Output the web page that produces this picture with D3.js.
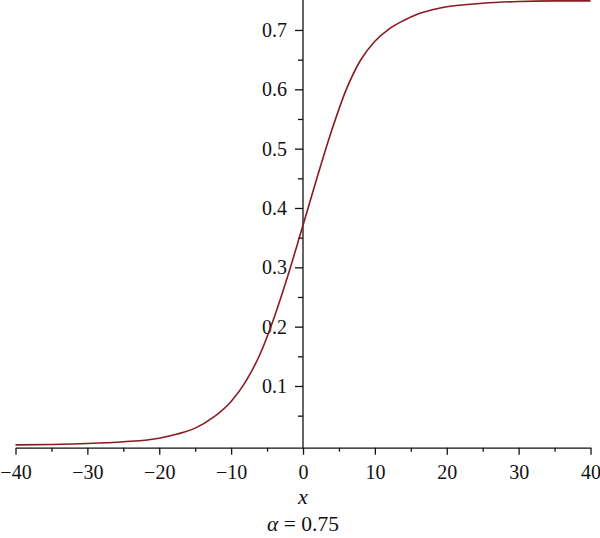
<!DOCTYPE html>
<html>
<head>
<meta charset="utf-8">
<script src="https://cdn.jsdelivr.net/npm/d3@7"></script>
<style>
  body { margin: 0; background: #fff; }
  svg { display: block; }
  text { font-family: "Liberation Serif", "DejaVu Serif", serif; fill: #111; }
</style>
</head>
<body>
<svg width="600" height="538"></svg>
<script>
// точки кривой
const xValues = [-40, -35, -30, -25, -20, -17.5, -15, -12.5, -10, -8, -6, -4, -2, 0, 2, 4, 6, 8, 10, 12, 14, 16, 18, 20, 25, 30, 35, 40];
const yValues = [0.0008, 0.0015, 0.003, 0.006, 0.012, 0.019, 0.029, 0.047, 0.074, 0.107, 0.153, 0.216, 0.290, 0.371, 0.453, 0.531, 0.599, 0.649, 0.681, 0.702, 0.716, 0.727, 0.734, 0.739, 0.745, 0.748, 0.749, 0.749];

// подписи осей
const xTicks = [-40, -30, -20, -10, 0, 10, 20, 30, 40];
const xMinorTicks = [-35, -25, -15, -5, 5, 15, 25, 35];
const yTicks = [0.1, 0.2, 0.3, 0.4, 0.5, 0.6, 0.7];
const yMinorTicks = [0.05, 0.15, 0.25, 0.35, 0.45, 0.55, 0.65];
const xLabel = "x";
const alphaValue = "0.75";

const svg = d3.select("svg");

const x = d3.scaleLinear().domain([-40, 40]).range([15.5, 590.5]);
const y = d3.scaleLinear().domain([-0.004, 0.75]).range([447.7, 0.3]);

const minus = (d) => d < 0 ? "\u2212" + Math.abs(d) : String(d);

// ось x (на нижней границе)
const gx = svg.append("g").attr("transform", `translate(0,${y(-0.004)})`);
gx.call(d3.axisBottom(x).tickValues(xTicks).tickSize(7).tickSizeOuter(0)
    .tickPadding(10.5).tickFormat(minus));
svg.append("g").attr("transform", `translate(0,${y(-0.004)})`)
    .call(d3.axisBottom(x).tickValues(xMinorTicks).tickSize(4).tickSizeOuter(0).tickFormat(""))
    .select(".domain").remove();

// ось y через ноль
const gy = svg.append("g").attr("transform", `translate(${x(0)},0)`);
gy.call(d3.axisLeft(y).tickValues(yTicks).tickSize(8).tickSizeOuter(0)
    .tickPadding(8).tickFormat(d3.format(".1f")));
svg.append("g").attr("transform", `translate(${x(0)},0)`)
    .call(d3.axisLeft(y).tickValues(yMinorTicks).tickSize(5).tickSizeOuter(0).tickFormat(""))
    .select(".domain").remove();

svg.selectAll(".domain").attr("stroke", "#111").attr("stroke-width", 1.3);
svg.selectAll(".tick line").attr("stroke", "#111").attr("stroke-width", 1.3);
svg.selectAll(".tick text").attr("font-size", 20).attr("font-family", "Liberation Serif, serif").attr("fill", "#000");

// верхний кусок оси y до края картинки
gy.select(".domain").attr("d", `M0,${y(-0.004)}V0`);

// кривая
const data = xValues.map((v, i) => ({x: v, y: yValues[i]}));
const line = d3.line()
    .x((d) => x(d.x))
    .y((d) => y(d.y))
    .curve(d3.curveMonotoneX);
svg.append("path")
    .attr("d", line(data))
    .attr("fill", "none")
    .attr("stroke", "#8b1a1f")
    .attr("stroke-width", 1.6);

// подписи под осью
svg.append("text")
    .attr("x", x(0)).attr("y", 504)
    .attr("text-anchor", "middle")
    .attr("font-size", 22)
    .attr("font-style", "italic")
    .attr("fill", "#000")
    .text(xLabel);

const cap = svg.append("text")
    .attr("x", x(0)).attr("y", 531)
    .attr("text-anchor", "middle")
    .attr("font-size", 21.5)
    .attr("fill", "#000");
cap.append("tspan").attr("font-style", "italic").text("\u03b1");
cap.append("tspan").text(" = " + alphaValue);
</script>
</body>
</html>
